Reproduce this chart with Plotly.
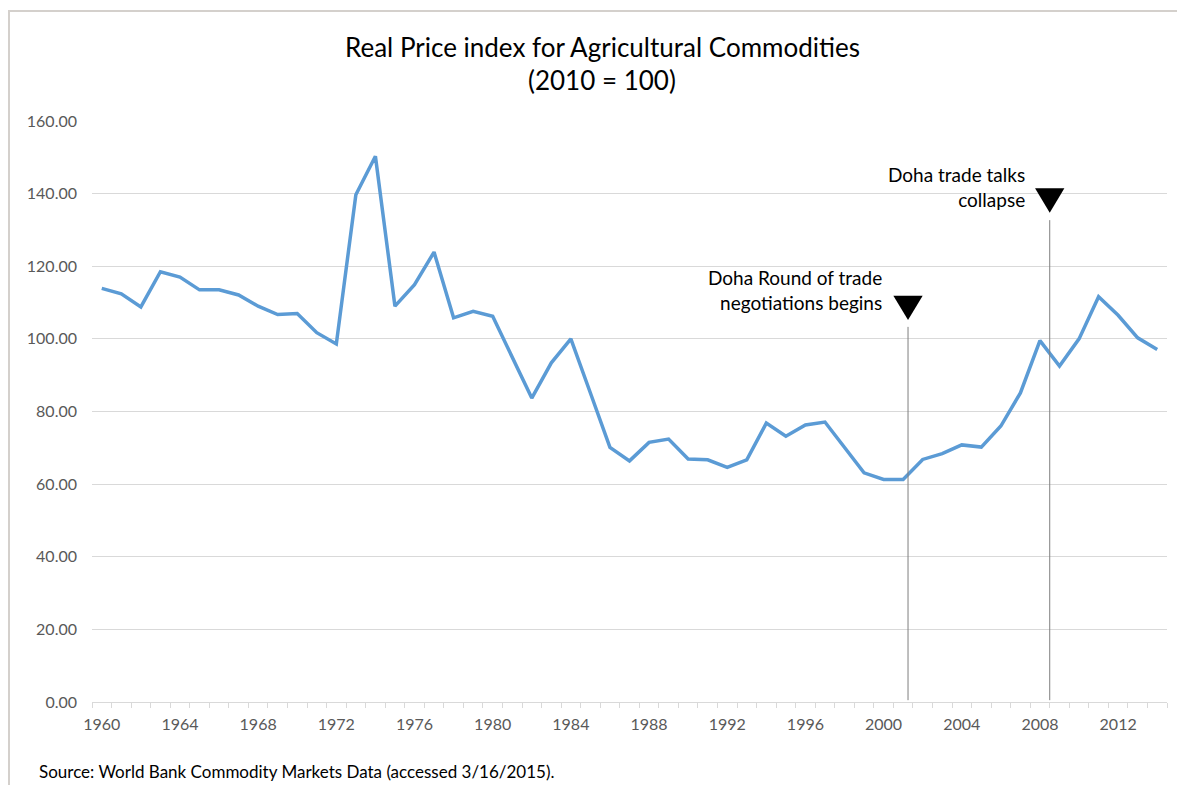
import plotly.graph_objects as go

years = list(range(1960, 2015))
price_index = [
    113.9, 112.4, 108.8, 118.5, 117.0, 113.5, 113.5, 112.1, 109.0, 106.7,
    107.0, 101.7, 98.6, 139.7, 150.3, 109.0, 114.9, 123.9, 105.8, 107.6,
    106.2, 95.2, 83.7, 93.4, 100.0, 85.1, 70.1, 66.4, 71.5, 72.4,
    66.9, 66.7, 64.6, 66.7, 76.8, 73.2, 76.3, 77.1, 70.0, 63.1,
    61.3, 61.3, 66.8, 68.4, 70.8, 70.2, 76.0, 85.1, 99.5, 92.5,
    100.0, 111.6, 106.5, 100.3, 97.1,
]
tick_years = list(range(1960, 2015, 4))
event_x = [2001.25, 2008.5]
event_labels = ["Doha Round of trade<br>negotiations begins", "Doha trade talks<br>collapse"]

# page layout (the page body has an 8px margin at left/top)
OFF = 8
PAGE_W, PAGE_H = 1185, 785
W, H = PAGE_W - OFF, PAGE_H - OFF
L, R, T, B = 92, 1167, 121, 702  # plot area in page pixels
FONT = "Lato, 'Open Sans', sans-serif"

def px(xp):
    return (xp - L) / (R - L)

def py(yp):
    return (B - yp) / (B - T)

fig = go.Figure()
fig.add_trace(go.Scatter(
    x=years, y=price_index, mode="lines",
    line=dict(color="#5B9BD5", width=3.5),
    hoverinfo="x+y", showlegend=False,
))

shapes = []
# chart border (left and top)
shapes.append(dict(type="line", xref="paper", yref="paper", x0=px(9), x1=px(9), y0=py(11), y1=py(800),
                   line=dict(color="#D4D0CC", width=2)))
shapes.append(dict(type="line", xref="paper", yref="paper", x0=px(8), x1=px(1200), y0=py(11), y1=py(11),
                   line=dict(color="#D4D0CC", width=2)))

# event markers
line_tops = [103.3, 132.7]
tri_tops = [111.9, 141.5]
tri_tips = [105.2, 134.7]
half_w = 0.75
for ex, lt, tt, tp in zip(event_x, line_tops, tri_tops, tri_tips):
    shapes.append(dict(type="line", xref="x", yref="y", x0=ex, x1=ex, y0=0.5, y1=lt,
                       line=dict(color="#7F7F7F", width=1)))
    shapes.append(dict(type="path", xref="x", yref="y",
                       path=f"M {ex-half_w},{tt} L {ex+half_w},{tt} L {ex},{tp} Z",
                       fillcolor="black", line=dict(color="black", width=0)))

annotations = []
# title
annotations.append(dict(text="Real Price index for Agricultural Commodities", xref="paper", yref="paper",
                        x=px(602), y=py(47), xanchor="center", yanchor="middle", showarrow=False,
                        font=dict(family=FONT, size=26, color="#000000")))
annotations.append(dict(text="(2010 = 100)", xref="paper", yref="paper",
                        x=px(602), y=py(80), xanchor="center", yanchor="middle", showarrow=False,
                        font=dict(family=FONT, size=26, color="#000000")))
# event labels
label_pos = [(884, 290), (1027, 187)]
for (lx, ly), txt in zip(label_pos, event_labels):
    annotations.append(dict(text=txt, xref="paper", yref="paper", x=px(lx), y=py(ly),
                            xanchor="right", yanchor="middle", align="right", showarrow=False,
                            font=dict(family=FONT, size=19, color="#000000")))
# source
annotations.append(dict(text="Source: World Bank Commodity Markets Data (accessed 3/16/2015).",
                        xref="paper", yref="paper", x=px(37), y=py(771), xanchor="left", yanchor="middle",
                        showarrow=False, font=dict(family=FONT, size=17, color="#000000")))

fig.update_layout(
    width=W, height=H,
    margin=dict(l=L - OFF, r=PAGE_W - R, t=T - OFF, b=H - (B - OFF), pad=0),
    paper_bgcolor="white", plot_bgcolor="white",
    shapes=shapes, annotations=annotations,
    font=dict(family=FONT, color="#595959"),
    xaxis=dict(
        range=[1959.5, 2014.5], tickmode="array", tickvals=tick_years,
        ticktext=[str(y) for y in tick_years], ticks="", showgrid=False,
        showline=True, linecolor="#D9D9D9", linewidth=1, zeroline=False,
        tickfont=dict(family=FONT, size=16, color="#595959"),
        ticklabelstandoff=8,
        minor=dict(ticks="outside", tick0=1959.5, dtick=1, ticklen=5, tickcolor="#D9D9D9", showgrid=False),
    ),
    yaxis=dict(
        range=[0, 160], dtick=20, tick0=0, tickformat=".2f", showgrid=True,
        gridcolor="#D9D9D9", gridwidth=1, zeroline=False, showline=False, ticks="",
        tickfont=dict(family=FONT, size=16, color="#595959"),
        ticklabelstandoff=14,
    ),
)

fig.write_html("out.html")
